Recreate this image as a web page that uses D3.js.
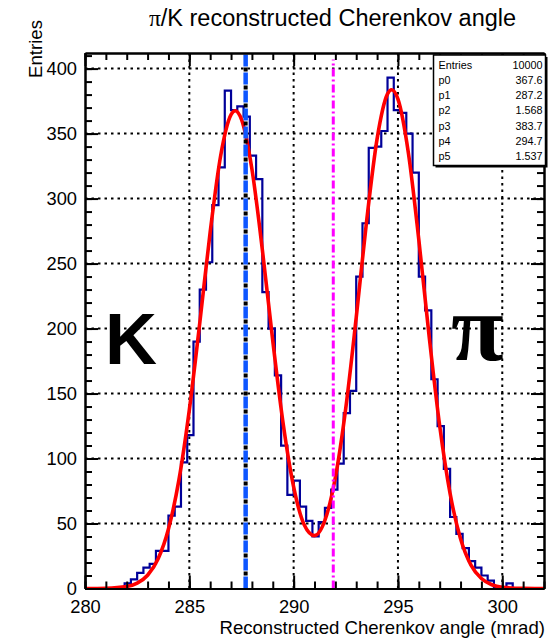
<!DOCTYPE html>
<html><head><meta charset="utf-8">
<script src="https://cdn.jsdelivr.net/npm/d3@7"></script>
<style>body{margin:0;background:#fff} svg{display:block}</style>
</head><body>
<svg id="c" width="558" height="642"></svg>
<script>
// ---- data ----
const binStart = 279.8;      // low edge of first bin (mrad)
const binWidth = 0.3;        // bin width (mrad)
const counts = [0,0,0,0,0,0,1,4,7,12,16,19,29,29,56,63,97,118,190,230,251,295,324,383,368,371,363,333,315,228,200,164,110,72,83,63,52,40,51,62,76,96,135,152,240,281,339,340,352,393,368,366,350,320,240,214,161,125,92,55,42,31,21,16,10,6,1,1,4,0,0,0,0,0];
const fitX = [280,281,282,282.5,283,283.5,284,284.5,285,285.5,286,286.5,287,287.2,287.5,288,288.5,289,289.5,290,290.5,291,291.5,292,292.5,293,293.5,294,294.5,294.7,295,295.5,296,296.5,297,297.5,298,298.5,299,299.5,300,301,302];
const fitY = [0.0,0.2,1.5,4.1,10.2,22.7,45.8,83.4,137.4,204.2,274.3,332.8,364.6,367.6,360.9,322.7,260.7,190.6,126.6,78.2,49.3,40.7,52.5,85.4,138.9,208.5,283.0,345.9,380.5,383.7,376.5,335.1,268.3,193.3,125.2,73.0,38.3,18.0,7.7,2.9,1.0,0.1,0.0];
const xTicks = [280,285,290,295,300];
const xMinor = d3.range(280,303,1);
const yTicks = [0,50,100,150,200,250,300,350,400];
const yMinor = d3.range(0,411,10);
const kaonAngle = 287.7;
const cutAngle = 291.9;
const statsLabels = ["Entries","p0","p1","p2","p3","p4","p5"];
const statsValues = ["10000","367.6","287.2","1.568","383.7","294.7","1.537"];
const titleText = "reconstructed Cherenkov angle";
const xTitle = "Reconstructed Cherenkov angle (mrad)";
const yTitle = "Entries";

// ---- drawing ----
const svg = d3.select("#c");
const FONT = "'Liberation Sans', Arial, Helvetica, sans-serif";
const x = d3.scaleLinear().domain([280,302]).range([85,544]);
const y = d3.scaleLinear().domain([0,412]).range([588.5,53]);

svg.append("defs").append("clipPath").attr("id","clip")
  .append("rect").attr("x",x(280)).attr("y",y(412)).attr("width",x(302)-x(280)).attr("height",y(0)-y(412));

// grid
const grid = svg.append("g").attr("stroke","#000").attr("stroke-width",2).attr("stroke-dasharray","2.5,4");
grid.selectAll(".gx").data(xTicks.filter(v=>v>280)).join("line")
  .attr("x1",d=>x(d)).attr("x2",d=>x(d)).attr("y1",y(0)).attr("y2",y(412));
grid.selectAll(".gy").data(yTicks.filter(v=>v>0)).join("line")
  .attr("x1",x(280)).attr("x2",x(302)).attr("y1",d=>y(d)).attr("y2",d=>y(d));

// histogram
const histPts = [];
counts.forEach((c,i)=>{
  const lo = binStart + i*binWidth, hi = lo + binWidth;
  histPts.push([lo,c],[hi,c]);
});
svg.append("path").attr("clip-path","url(#clip)")
  .attr("d", d3.line().x(d=>x(d[0])).y(d=>y(d[1]))(histPts))
  .attr("fill","none").attr("stroke","#000099").attr("stroke-width",2.2);

// fit
svg.append("path").attr("clip-path","url(#clip)")
  .attr("d", d3.line().curve(d3.curveMonotoneX).x((d,i)=>x(fitX[i])).y(d=>y(d))(fitY))
  .attr("fill","none").attr("stroke","#ff0000").attr("stroke-width",3.6).attr("stroke-linejoin","round");

// vertical lines
svg.append("line").attr("x1",x(kaonAngle)).attr("x2",x(kaonAngle)).attr("y1",y(0)).attr("y2",y(412))
  .attr("stroke","#000").attr("stroke-width",4).attr("stroke-dasharray","4,14").attr("stroke-dashoffset",5);
svg.append("line").attr("x1",x(kaonAngle)).attr("x2",x(kaonAngle)).attr("y1",y(0)).attr("y2",y(412))
  .attr("stroke","#0d55ff").attr("stroke-width",4.5).attr("stroke-dasharray","12,6");
svg.append("line").attr("x1",x(cutAngle)).attr("x2",x(cutAngle)).attr("y1",y(0)).attr("y2",y(407))
  .attr("stroke","#ff00ff").attr("stroke-width",3).attr("stroke-dasharray","8,3,2,3");

// axes
function styleAxis(g){
  g.selectAll(".domain").attr("stroke","#000").attr("stroke-width",2);
  g.selectAll(".tick line").attr("stroke","#000").attr("stroke-width",2);
  g.selectAll("text").attr("font-family",FONT).attr("font-size",18.3).attr("fill","#000");
}
function addAxis(axis, tx, ty){
  const g = svg.append("g").attr("transform",`translate(${tx},${ty})`).call(axis);
  styleAxis(g);
  return g;
}
addAxis(d3.axisBottom(x).tickValues(xTicks).tickSize(-13).tickSizeOuter(0).tickPadding(12).tickFormat(d3.format("d")), 0, y(0));
addAxis(d3.axisBottom(x).tickValues(xMinor).tickSize(-7).tickSizeOuter(0).tickFormat(""), 0, y(0));
addAxis(d3.axisTop(x).tickValues(xTicks).tickSize(-13).tickSizeOuter(0).tickFormat(""), 0, y(412));
addAxis(d3.axisTop(x).tickValues(xMinor).tickSize(-7).tickSizeOuter(0).tickFormat(""), 0, y(412));
addAxis(d3.axisLeft(y).tickValues(yTicks).tickSize(-13).tickSizeOuter(0).tickPadding(8).tickFormat(d3.format("d")), x(280), 0);
addAxis(d3.axisLeft(y).tickValues(yMinor).tickSize(-7).tickSizeOuter(0).tickFormat(""), x(280), 0);
addAxis(d3.axisRight(y).tickValues(yTicks).tickSize(-13).tickSizeOuter(0).tickFormat(""), x(302), 0);
addAxis(d3.axisRight(y).tickValues(yMinor).tickSize(-7).tickSizeOuter(0).tickFormat(""), x(302), 0);

// titles
const t = svg.append("text").attr("x",332.5).attr("y",26).attr("text-anchor","middle")
  .attr("font-family",FONT).attr("font-size",23.5).attr("fill","#000");
t.append("tspan").attr("font-family","'Liberation Serif', 'Times New Roman', serif").text("π");
t.append("tspan").text("/K " + titleText);

svg.append("text").attr("x",545).attr("y",634).attr("text-anchor","end")
  .attr("font-family",FONT).attr("font-size",18.6).text(xTitle);
svg.append("text").attr("transform","translate(42,20) rotate(-90)").attr("text-anchor","end")
  .attr("font-family",FONT).attr("font-size",18.6).text(yTitle);

// big labels
svg.append("text").attr("x",105).attr("y",364).attr("font-family",FONT).attr("font-weight","bold")
  .attr("font-size",72).text("K");
svg.append("text").attr("x",451).attr("y",360).attr("font-family","'Liberation Serif', 'Times New Roman', serif").attr("font-weight","bold")
  .attr("font-size",96).text("π");

// stats box
const bx0 = 433.5, by0 = 55, bw = 112, bh = 110.5;
svg.append("rect").attr("x",bx0+2).attr("y",by0+2).attr("width",bw).attr("height",bh).attr("fill","#000");
svg.append("rect").attr("x",bx0).attr("y",by0).attr("width",bw).attr("height",bh)
  .attr("fill","#fff").attr("stroke","#000").attr("stroke-width",1.5);
const st = svg.append("g").attr("font-family",FONT).attr("font-size",10.8).attr("fill","#000");
statsLabels.forEach((s,i)=>{
  st.append("text").attr("x",bx0+5).attr("y",by0+13.5+15.3*i).text(s);
  st.append("text").attr("x",bx0+bw-3).attr("y",by0+13.5+15.3*i).attr("text-anchor","end").text(statsValues[i]);
});
</script>
</body></html>
